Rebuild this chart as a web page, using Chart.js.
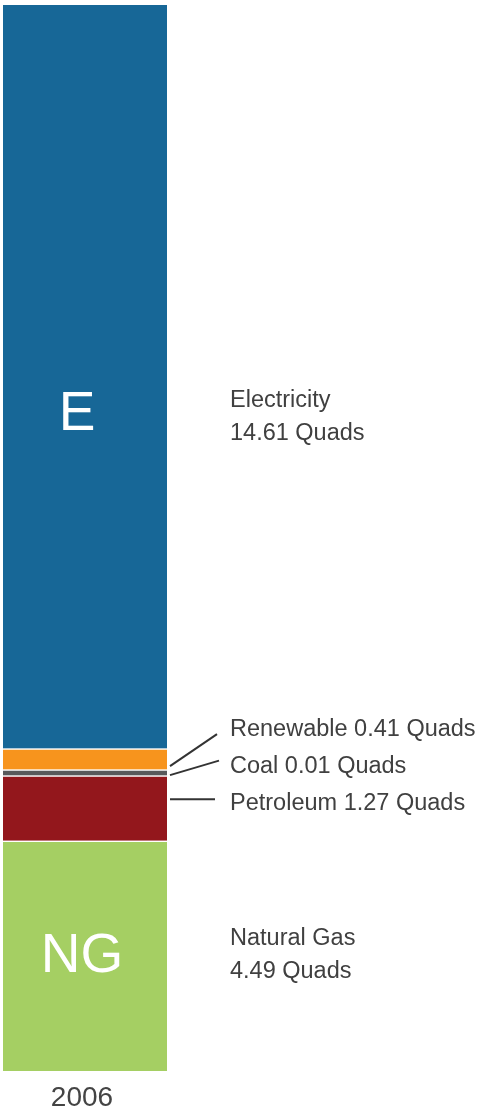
<!DOCTYPE html>
<html>
<head>
<meta charset="utf-8">
<script src="https://cdn.jsdelivr.net/npm/chart.js@4"></script>
<style>
  html, body { margin: 0; padding: 0; background: #ffffff; }
  #wrap { width: 480px; height: 1112px; position: relative; }
</style>
</head>
<body>
<div id="wrap"><canvas id="c"></canvas></div>
<script>
// ---- data ----
const categories = ['2006'];
const sources = ['Natural Gas', 'Petroleum', 'Coal', 'Renewable', 'Electricity'];
const quads = [4.49, 1.27, 0.01, 0.41, 14.61];
const abbreviations = ['NG', '', '', '', 'E'];
const unitLabel = 'Quads';

// ---- styles ----
const colors = ['#a5cf63', '#93171c', '#58595b', '#f7941d', '#176797'];
const textColor = '#404040';
const fontFamily = '"Liberation Sans", Arial, Helvetica, sans-serif';

// label layout: offsets (px) relative to each segment's right edge / vertical centre
const labelLayout = [
  { lines: 2, baselines: [-11, 21.7], abbrDx: -3, abbrDy: 16 },                       // Natural Gas
  { lines: 1, baselines: [2], leader: { y1: -9, y2: -9, dx2: 48 } },                 // Petroleum
  { lines: 1, baselines: [0.5], leader: { y1: 2.5, y2: -12, dx2: 52 } },             // Coal
  { lines: 1, baselines: [-23], leader: { y1: 7, y2: -25, dx2: 50 } },               // Renewable
  { lines: 2, baselines: [33.4, 66.4], abbrDx: -8, abbrDy: 56 }                      // Electricity
];
const textDx = 63;
const leaderDx1 = 3;

const total = quads.reduce((a, b) => a + b, 0);

const datasets = sources.map((s, i) => ({
  label: s,
  data: [quads[i]],
  backgroundColor: colors[i],
  borderColor: '#ffffff',
  borderWidth: { top: 1.5, bottom: 0, left: 0, right: 0 },
  borderSkipped: false,
  minBarLength: s === 'Coal' ? 6 : 0,
  barPercentage: 1,
  categoryPercentage: 1
}));

const segmentLabels = {
  id: 'segmentLabels',
  afterDatasetsDraw(chart) {
    const ctx = chart.ctx;
    ctx.save();
    ctx.textBaseline = 'alphabetic';
    sources.forEach((s, i) => {
      const bar = chart.getDatasetMeta(i).data[0];
      if (!bar) return;
      const right = bar.x + bar.width / 2;
      const cy = (bar.y + bar.base) / 2;
      const L = labelLayout[i];
      const value = quads[i].toFixed(2) + ' ' + unitLabel;
      ctx.fillStyle = textColor;
      ctx.textAlign = 'left';
      ctx.font = '23.5px ' + fontFamily;
      if (L.lines === 2) {
        ctx.fillText(s, right + textDx, cy + L.baselines[0]);
        ctx.fillText(value, right + textDx, cy + L.baselines[1]);
      } else {
        ctx.fillText(s + ' ' + value, right + textDx, cy + L.baselines[0]);
      }
      if (L.leader) {
        ctx.strokeStyle = '#333333';
        ctx.lineWidth = 2;
        ctx.beginPath();
        ctx.moveTo(right + leaderDx1, cy + L.leader.y1);
        ctx.lineTo(right + L.leader.dx2, cy + L.leader.y2);
        ctx.stroke();
      }
      if (abbreviations[i]) {
        ctx.fillStyle = '#ffffff';
        ctx.textAlign = 'center';
        ctx.font = '55px ' + fontFamily;
        ctx.fillText(abbreviations[i], bar.x + L.abbrDx, cy + L.abbrDy);
      }
    });
    ctx.restore();
  }
};

new Chart(document.getElementById('c'), {
  type: 'bar',
  data: { labels: categories, datasets },
  options: {
    responsive: true,
    maintainAspectRatio: false,
    animation: false,
    layout: { padding: { left: 3, right: 313, top: 5, bottom: -13 } },
    plugins: { legend: { display: false }, tooltip: { enabled: false } },
    scales: {
      x: {
        stacked: true,
        grid: { display: false, drawTicks: false },
        border: { display: false },
        ticks: {
          color: '#444444',
          padding: 10,
          labelOffset: -3,
          font: { family: fontFamily, size: 28, lineHeight: 1.214 }
        }
      },
      y: {
        stacked: true,
        display: false,
        min: 0,
        max: total
      }
    }
  },
  plugins: [segmentLabels]
});
</script>
</body>
</html>
